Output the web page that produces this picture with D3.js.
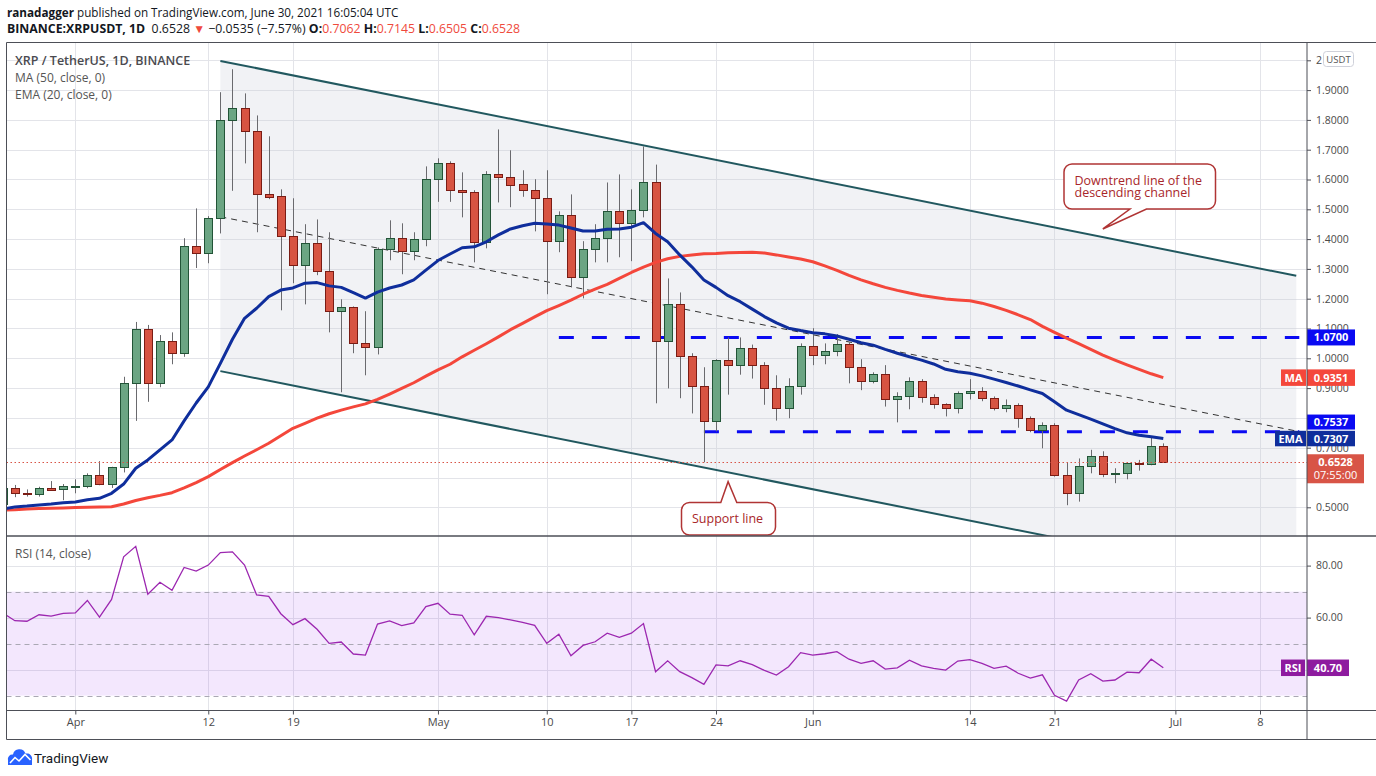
<!DOCTYPE html>
<html><head><meta charset="utf-8">
<script src="https://cdn.jsdelivr.net/npm/d3@7"></script>
<style>body{margin:0;background:#fff;overflow:hidden}svg{display:block;font-family:"Open Sans",sans-serif}</style>
</head><body><svg id="c" width="1376" height="776"></svg>
<script>
// ---------------- DATA ----------------
const firstDay = "2021-03-26", lastDay = "2021-06-30";
const opens = [0.511,0.564,0.547,0.544,0.564,0.560,
0.570,0.571,0.607,0.577,0.634,0.916,1.097,0.916,1.057,1.017,1.376,1.352,1.470,1.799,1.839,1.762,1.550,1.544,1.409,1.312,1.386,1.292,1.158,1.171,1.050,1.037,1.366,1.403,1.359,1.399,
1.601,1.654,1.564,1.557,1.389,1.617,1.607,1.584,1.564,1.537,1.393,1.480,1.272,1.366,1.403,1.493,1.453,1.497,1.591,1.057,1.181,1.007,0.906,0.789,0.993,0.976,1.034,0.976,0.899,0.832,0.906,
1.040,1.010,1.023,1.047,0.970,0.923,0.946,0.862,0.872,0.923,0.869,0.846,0.832,0.883,0.889,0.866,0.832,0.842,0.799,0.758,0.775,0.607,0.547,0.638,0.671,0.611,0.614,0.648,0.644,0.7062];
const highs = [0.575,0.575,0.560,0.569,0.588,0.578,
0.594,0.614,0.655,0.636,0.938,1.122,1.112,1.078,1.087,1.403,1.503,1.477,1.893,1.970,1.889,1.815,1.745,1.567,1.537,1.450,1.466,1.423,1.198,1.174,1.158,1.372,1.463,1.453,1.423,1.644,
1.671,1.661,1.624,1.564,1.628,1.768,1.698,1.631,1.601,1.631,1.493,1.550,1.393,1.450,1.590,1.617,1.567,1.711,1.650,1.268,1.221,1.017,0.970,0.997,1.070,1.070,1.046,0.987,0.943,0.933,1.050,
1.101,1.050,1.081,1.054,0.997,0.953,0.977,0.886,0.936,0.930,0.879,0.849,0.889,0.930,0.903,0.872,0.862,0.849,0.805,0.785,0.782,0.651,0.664,0.693,0.688,0.631,0.651,0.659,0.735,0.7145];
const lows = [0.505,0.534,0.536,0.536,0.556,0.524,
0.547,0.564,0.574,0.565,0.617,0.790,0.854,0.903,0.980,1.005,1.303,1.319,1.419,1.562,1.654,1.423,1.534,1.161,1.252,1.181,1.279,1.087,0.886,1.017,0.943,1.013,1.329,1.282,1.329,1.376,
1.525,1.525,1.473,1.322,1.369,1.523,1.507,1.542,1.426,1.215,1.356,1.238,1.201,1.322,1.322,1.339,1.326,1.473,0.849,0.899,0.866,0.815,0.651,0.755,0.878,0.945,0.932,0.844,0.791,0.799,0.878,
0.977,0.980,1.007,0.916,0.893,0.916,0.838,0.785,0.829,0.851,0.831,0.805,0.815,0.862,0.856,0.825,0.819,0.767,0.752,0.698,0.603,0.507,0.519,0.614,0.601,0.581,0.594,0.623,0.641,0.6505];
const closes = [0.564,0.547,0.544,0.564,0.559,0.570,
0.571,0.607,0.577,0.634,0.916,1.097,0.916,1.057,1.017,1.376,1.352,1.470,1.799,1.839,1.762,1.550,1.540,1.409,1.312,1.386,1.292,1.158,1.171,1.050,1.037,1.366,1.403,1.359,1.399,1.601,
1.654,1.564,1.557,1.389,1.617,1.607,1.581,1.564,1.537,1.393,1.480,1.272,1.366,1.403,1.493,1.453,1.497,1.591,1.057,1.181,1.007,0.906,0.789,0.993,0.976,1.034,0.976,0.899,0.832,0.906,1.040,
1.010,1.023,1.047,0.970,0.923,0.946,0.862,0.872,0.923,0.869,0.846,0.832,0.883,0.889,0.866,0.832,0.842,0.799,0.758,0.775,0.607,0.547,0.638,0.671,0.611,0.614,0.648,0.644,0.706,0.6528];
const ma50 = [0.491,0.492,0.494,0.496,0.497,0.498,
0.499,0.500,0.501,0.502,0.511,0.523,0.532,0.540,0.549,0.565,0.583,0.603,0.627,0.650,0.672,0.693,0.715,0.740,0.765,0.782,0.799,0.814,0.826,0.837,0.847,0.862,0.880,0.899,0.918,0.940,
0.961,0.980,1.005,1.027,1.049,1.072,1.096,1.117,1.139,1.160,1.177,1.195,1.215,1.232,1.248,1.268,1.288,1.306,1.322,1.334,1.342,1.347,1.351,1.352,1.354,1.355,1.356,1.353,1.347,1.340,1.333,
1.324,1.310,1.295,1.278,1.263,1.250,1.238,1.228,1.219,1.211,1.205,1.199,1.196,1.193,1.185,1.174,1.161,1.146,1.130,1.107,1.087,1.068,1.049,1.030,1.011,0.994,0.978,0.963,0.948,0.9351];
const ema20 = [0.494,0.501,0.504,0.508,0.511,0.515,
0.518,0.525,0.530,0.547,0.578,0.631,0.659,0.693,0.726,0.790,0.850,0.904,0.983,1.064,1.134,1.168,1.207,1.229,1.236,1.252,1.254,1.243,1.238,1.220,1.202,1.222,1.236,1.246,1.263,1.296,
1.328,1.350,1.371,1.374,1.391,1.414,1.434,1.445,1.453,1.451,1.447,1.437,1.427,1.427,1.433,1.434,1.440,1.455,1.419,1.391,1.347,1.307,1.263,1.238,1.210,1.190,1.165,1.140,1.119,1.101,1.093,
1.086,1.082,1.075,1.064,1.052,1.044,1.030,1.017,1.005,0.994,0.981,0.963,0.955,0.950,0.941,0.930,0.919,0.907,0.894,0.882,0.854,0.826,0.811,0.796,0.780,0.764,0.750,0.742,0.737,0.7307];
const rsi14 = [61.8,58.8,58.6,61.1,60.6,61.6,
61.8,66.6,60.2,67.0,83.4,87.4,69.0,73.6,70.5,79.3,77.9,80.2,85.0,85.3,80.2,68.7,68.2,61.5,57.3,59.6,55.5,50.1,50.6,46.0,45.6,57.5,58.7,56.9,58.0,64.2,
65.5,61.3,60.9,53.4,60.5,60.0,59.1,58.2,57.0,50.1,53.6,45.3,49.3,50.7,54.0,52.4,54.0,57.7,39.2,43.4,39.2,36.9,34.3,41.8,41.4,43.4,41.9,39.7,37.9,41.1,46.5,
45.6,46.1,46.9,44.0,42.4,43.4,40.2,40.7,43.6,41.4,40.5,39.8,43.3,43.8,42.4,40.5,41.3,38.6,36.7,38.0,30.1,27.9,36.0,38.4,35.6,36.0,39.0,38.8,44.0,40.7];

const priceGridTicks = [0.5,0.6,0.7,0.8,0.9,1.0,1.1,1.2,1.3,1.4,1.5,1.6,1.7,1.8,1.9,2.0];
const priceLabelTicks = [0.5,0.7,0.9,1.0,1.1,1.2,1.3,1.4,1.5,1.6,1.7,1.8,1.9,2.0];
const priceLabelText = ["0.5000","0.7000","0.9000","1.0000","1.1000","1.2000","1.3000","1.4000","1.5000","1.6000","1.7000","1.8000","1.9000","2"];
const timeTicks = ["2021-04-01","2021-04-12","2021-04-19","2021-05-01","2021-05-10","2021-05-17","2021-05-24","2021-06-01","2021-06-14","2021-06-21","2021-07-01","2021-07-08"];
const timeTickLabels = ["Apr","12","19","May","10","17","24","Jun","14","21","Jul","8"];
const rsiGridTicks = [40,60,80];
const rsiBandTicks = [30,50,70];
const rsiAxisTicks = [60,80];
const levelValues = [1.07, 0.7537];
const levelStarts = ["2021-05-11","2021-05-23"];
const levelEnd = "2021-07-11T06:00:00Z";
const channelDates = ["2021-04-13","2021-07-11"];
const channelUpper = [1.998, 1.277];
const channelLower = [0.957, 0.237];
const trendDates = ["2021-04-13","2021-07-11"];
const trendValues = [1.475, 0.756];
const lastPrice = 0.6528, lastMA = 0.9351, lastEMA = 0.7307, lastRSI = 40.70;
const calloutTop = {date:"2021-06-25", value:1.434, lines:["Downtrend line of the","descending channel"]};
const calloutBottom = {date:"2021-05-25", value:0.586, lines:["Support line"]};

// ---------------- LAYOUT ----------------
const svg = d3.select("#c");
const L = 6.5, R = 1307, T = 42.5, MB = 536, RB = 710.5, BB = 739.5;
const pd = s => new Date(s.length > 10 ? s : s + "T00:00:00Z");
const dates = d3.utcDay.range(pd(firstDay), d3.utcDay.offset(pd(lastDay), 1));
const x = d3.scaleUtc().domain([pd("2021-04-01"), pd("2021-07-08")]).range([75.3, 1260]);
const y = d3.scaleLinear().domain([0.5, 2.0]).range([507.3, 60.3]);
const yr = d3.scaleLinear().domain([30, 80]).range([695.6, 565.6]);

const GRID = "#e3e4e9", FRAME = "#4d4f57", AXT = "#4a4a4a";
const UP = "#6ba583", UPB = "#225437", DN = "#d75442", DNB = "#7a1c14", WICK = "#6a6a6e";
const MAC = "#f4473b", EMAC = "#0f2e9c", LVL = "#0a0af2", CHAN = "#21585f", RSIC = "#9c27b0", PRC = "#d85446", CALL = "#b03434";

const defs = svg.append("defs");
defs.append("clipPath").attr("id","cm").append("rect").attr("x",L).attr("y",T).attr("width",R-L).attr("height",MB-T);
defs.append("clipPath").attr("id","cr").append("rect").attr("x",L).attr("y",MB).attr("width",R-L).attr("height",RB-MB);

// ---------------- HEADER ----------------
const h1 = svg.append("text").attr("x",7).attr("y",17).attr("font-size",11.7).attr("fill","#131722");
h1.append("tspan").attr("font-weight",700).text("ranadagger");
h1.append("tspan").text(" published on TradingView.com, June 30, 2021 16:05:04 UTC");
const h2 = svg.append("text").attr("x",7).attr("y",33).attr("font-size",12.3).attr("fill","#131722");
h2.append("tspan").attr("font-weight",700).text("BINANCE:XRPUSDT, 1D");
h2.append("tspan").text("\u00a0 0.6528 ");
h2.append("tspan").attr("fill","#ef4a3c").attr("font-size",12).text("\u25BC");
h2.append("tspan").text(" \u22120.0535 (\u22127.57%) ");
[["O:","0.7062"],["H:","0.7145"],["L:","0.6505"],["C:","0.6528"]].forEach((p,i)=>{
  h2.append("tspan").attr("font-weight",700).text((i? " ":"") + p[0]);
  h2.append("tspan").attr("fill","#ef4a3c").text(p[1]);
});

// ---------------- GRID ----------------
const gMain = svg.append("g").attr("clip-path","url(#cm)");
const gR = svg.append("g").attr("clip-path","url(#cr)");
gMain.selectAll(".hg").data(priceGridTicks).join("line")
  .attr("x1",L).attr("x2",R).attr("y1",d=>Math.round(y(d))+0.5).attr("y2",d=>Math.round(y(d))+0.5)
  .attr("stroke",GRID);
gMain.selectAll(".vg").data(timeTicks).join("line")
  .attr("x1",d=>Math.round(x(pd(d)))+0.5).attr("x2",d=>Math.round(x(pd(d)))+0.5).attr("y1",T).attr("y2",MB)
  .attr("stroke",GRID);

gR.selectAll(".vg").data(timeTicks).join("line")
  .attr("x1",d=>Math.round(x(pd(d)))+0.5).attr("x2",d=>Math.round(x(pd(d)))+0.5).attr("y1",MB).attr("y2",RB)
  .attr("stroke",GRID);
gR.selectAll(".hg").data(rsiGridTicks).join("line")
  .attr("x1",L).attr("x2",R).attr("y1",d=>Math.round(yr(d))+0.5).attr("y2",d=>Math.round(yr(d))+0.5)
  .attr("stroke",GRID);
gR.append("rect").attr("x",L).attr("width",R-L).attr("y",yr(70)).attr("height",yr(30)-yr(70))
  .attr("fill","rgba(150,40,240,0.115)");
gR.selectAll(".bd").data(rsiBandTicks).join("line")
  .attr("x1",L).attr("x2",R).attr("y1",d=>Math.round(yr(d))+0.5).attr("y2",d=>Math.round(yr(d))+0.5)
  .attr("stroke","#aaa8b4").attr("stroke-dasharray","5,4");

// ---------------- DRAWINGS (behind candles) ----------------
const cx0 = x(pd(channelDates[0])), cx1 = x(pd(channelDates[1]));
gMain.append("path")
  .attr("d", `M${cx0},${y(channelUpper[0])}L${cx1},${y(channelUpper[1])}L${cx1},${y(channelLower[1])}L${cx0},${y(channelLower[0])}Z`)
  .attr("fill","rgba(200,205,215,0.25)");
gMain.append("line").attr("x1",cx0).attr("y1",y(channelUpper[0])).attr("x2",cx1).attr("y2",y(channelUpper[1]))
  .attr("stroke",CHAN).attr("stroke-width",2);
gMain.append("line").attr("x1",cx0).attr("y1",y(channelLower[0])).attr("x2",cx1).attr("y2",y(channelLower[1]))
  .attr("stroke",CHAN).attr("stroke-width",2);
gMain.append("line").attr("x1",x(pd(trendDates[0]))).attr("y1",y(trendValues[0]))
  .attr("x2",x(pd(trendDates[1]))).attr("y2",y(trendValues[1]))
  .attr("stroke","#333").attr("stroke-width",1).attr("stroke-dasharray","6,5");
levelValues.forEach((v,i)=>{
  gMain.append("line").attr("x1",x(pd(levelStarts[i]))).attr("x2",x(pd(levelEnd)))
    .attr("y1",y(v)).attr("y2",y(v)).attr("stroke",LVL).attr("stroke-width",3).attr("stroke-dasharray","15,18");
});

// ---------------- CANDLES ----------------
const candles = dates.map((d,i)=>({d, o:opens[i], h:highs[i], l:lows[i], c:closes[i]}));
const gc = gMain.append("g");
candles.forEach(k=>{
  const cx = Math.round(x(k.d));
  const up = k.c >= k.o;
  gc.append("line").attr("x1",cx+0.5).attr("x2",cx+0.5).attr("y1",y(k.h)).attr("y2",y(k.l))
    .attr("stroke",WICK).attr("stroke-width",1);
  const yt = Math.round(y(Math.max(k.o,k.c))), yb = Math.round(y(Math.min(k.o,k.c)));
  gc.append("rect").attr("x",cx-3.5).attr("width",8).attr("y",yt+0.5).attr("height",Math.max(1,yb-yt))
    .attr("fill",up?UP:DN).attr("stroke",up?UPB:DNB).attr("stroke-width",1);
});

gMain.append("line").attr("x1",L).attr("x2",R).attr("y1",Math.round(y(lastPrice))+0.5).attr("y2",Math.round(y(lastPrice))+0.5)
  .attr("stroke",PRC).attr("stroke-width",1).attr("stroke-dasharray","1.5,2.5");

// ---------------- INDICATORS ----------------
const line = d3.line().x((d,i)=>x(dates[i])).y(d=>y(d));
gMain.append("path").attr("d",line(ma50)).attr("fill","none").attr("stroke",MAC).attr("stroke-width",3).attr("stroke-linejoin","round");
gMain.append("path").attr("d",line(ema20)).attr("fill","none").attr("stroke",EMAC).attr("stroke-width",3).attr("stroke-linejoin","round");

const rline = d3.line().x((d,i)=>x(dates[i])).y(d=>yr(d));
gR.append("path").attr("d",rline(rsi14)).attr("fill","none").attr("stroke",RSIC).attr("stroke-width",1.3);

// ---------------- CALLOUTS ----------------
function callout(c, box, base, pointerSide){
  const tx = x(pd(c.date)), ty = y(c.value);
  const [x0,y0,x1,y1] = box, r = 8;
  let d;
  if (pointerSide === "bottom") {
    d = `M${x0+r},${y0}H${x1-r}A${r},${r} 0 0 1 ${x1},${y0+r}V${y1-r}A${r},${r} 0 0 1 ${x1-r},${y1}`+
        `H${base[1]}L${tx},${ty}L${base[0]},${y1}H${x0+r}A${r},${r} 0 0 1 ${x0},${y1-r}V${y0+r}A${r},${r} 0 0 1 ${x0+r},${y0}Z`;
  } else {
    d = `M${x0+r},${y0}H${base[0]}L${tx},${ty}L${base[1]},${y0}H${x1-r}A${r},${r} 0 0 1 ${x1},${y0+r}V${y1-r}`+
        `A${r},${r} 0 0 1 ${x1-r},${y1}H${x0+r}A${r},${r} 0 0 1 ${x0},${y1-r}V${y0+r}A${r},${r} 0 0 1 ${x0+r},${y0}Z`;
  }
  svg.append("path").attr("d",d).attr("fill","#fff").attr("stroke",CALL).attr("stroke-width",1.5);
  const t = svg.append("text").attr("font-size",12.5).attr("fill","#a8262a");
  const n = c.lines.length;
  c.lines.forEach((s,i)=>{
    t.append("tspan").attr("x",x0+10.5)
      .attr("y",(y0+y1)/2 + 4.5 + (i-(n-1)/2)*12.5).text(s);
  });
}
callout(calloutTop, [1064,164,1215.5,209], [1130,1146.5], "bottom");
callout(calloutBottom, [681.5,502.5,775.5,535], [720.8,736.8], "top");

// ---------------- LEGENDS ----------------
svg.append("text").attr("x",15).attr("y",64.5).attr("font-size",12.5).attr("font-weight",600).attr("fill","#4a4a4f").text("XRP / TetherUS, 1D, BINANCE");
svg.append("text").attr("x",15).attr("y",81.5).attr("font-size",12).attr("fill","#555").text("MA (50, close, 0)");
svg.append("text").attr("x",15).attr("y",98.5).attr("font-size",12).attr("fill","#555").text("EMA (20, close, 0)");
svg.append("text").attr("x",15).attr("y",557.5).attr("font-size",12).attr("fill","#555").text("RSI (14, close)");

// ---------------- AXES ----------------
svg.append("rect").attr("x",R).attr("y",T).attr("width",1376-R).attr("height",BB-T).attr("fill","#fff");
const ya = svg.append("g").attr("transform",`translate(${R},0)`)
  .call(d3.axisRight(y).tickValues(priceLabelTicks).tickFormat((d,i)=>priceLabelText[i]).tickSize(4).tickPadding(5));
const yra = svg.append("g").attr("transform",`translate(${R},0)`)
  .call(d3.axisRight(yr).tickValues(rsiAxisTicks).tickFormat(d3.format(".2f")).tickSize(4).tickPadding(5));
const xa = svg.append("g").attr("transform",`translate(0,${RB})`)
  .call(d3.axisBottom(x).tickValues(timeTicks.map(pd)).tickFormat((d,i)=>timeTickLabels[i]).tickSize(4).tickPadding(4));
[ya,yra,xa].forEach(g=>{
  g.select(".domain").remove();
  g.selectAll(".tick line").attr("stroke",FRAME);
  g.selectAll(".tick text").attr("fill",AXT).attr("font-family","'Open Sans',sans-serif");
});
ya.selectAll(".tick text").attr("font-size",10.5);
yra.selectAll(".tick text").attr("font-size",10.5);
xa.selectAll(".tick text").attr("font-size",11);

svg.append("rect").attr("x",1323.5).attr("y",51.5).attr("width",30).attr("height",15).attr("rx",3)
  .attr("fill","#fff").attr("stroke","#cfd1da");
svg.append("text").attr("x",1338.5).attr("y",62.5).attr("text-anchor","middle").attr("font-size",9.5).attr("fill","#555").text("USDT");

function tag(x0, w, cy, h, fill, label){
  svg.append("rect").attr("x",x0).attr("y",cy-h/2).attr("width",w).attr("height",h).attr("fill",fill);
  svg.append("text").attr("x",x0+w/2).attr("y",cy+4).attr("text-anchor","middle").attr("font-size",11)
    .attr("font-weight",700).attr("fill","#fff").text(label);
}
const emaCy = y(lastEMA);
tag(R, 48, y(levelValues[0]), 16, LVL, d3.format(".4f")(levelValues[0]));
tag(R, 48, y(lastMA), 16.5, MAC, d3.format(".4f")(lastMA));
tag(1281, 25, y(lastMA), 16.5, MAC, "MA");
tag(R, 48, Math.min(y(levelValues[1]), emaCy-16.5), 15, LVL, d3.format(".4f")(levelValues[1]));
tag(R, 48, emaCy, 15.5, EMAC, d3.format(".4f")(lastEMA));
tag(1275, 31, emaCy, 15.5, EMAC, "EMA");
const lpY = y(lastPrice);
svg.append("rect").attr("x",R).attr("y",lpY-7.5).attr("width",57).attr("height",29).attr("fill",PRC);
svg.append("text").attr("x",R+28.5).attr("y",lpY+4).attr("text-anchor","middle").attr("font-size",11).attr("font-weight",700).attr("fill","#fff").text(d3.format(".4f")(lastPrice));
svg.append("text").attr("x",R+28.5).attr("y",lpY+17).attr("text-anchor","middle").attr("font-size",11).attr("fill","#fff").text("07:55:00");
tag(R, 42, yr(lastRSI), 16.5, "#8e1b9f", d3.format(".2f")(lastRSI));
tag(1281, 24, yr(lastRSI), 16.5, "#8e1b9f", "RSI");

// ---------------- FRAME ----------------
const fr = svg.append("g").attr("stroke",FRAME).attr("stroke-width",1);
fr.append("line").attr("x1",L).attr("x2",1376).attr("y1",T).attr("y2",T);
fr.append("line").attr("x1",L).attr("x2",1376).attr("y1",MB).attr("y2",MB).attr("stroke-width",1.5);
fr.append("line").attr("x1",L).attr("x2",1376).attr("y1",RB).attr("y2",RB);
fr.append("line").attr("x1",L).attr("x2",1376).attr("y1",BB).attr("y2",BB);
fr.append("line").attr("x1",L).attr("x2",L).attr("y1",T).attr("y2",BB);
fr.append("line").attr("x1",R).attr("x2",R).attr("y1",T).attr("y2",BB);

// ---------------- FOOTER LOGO ----------------
const lg = svg.append("g");
lg.append("path").attr("d","M8,765 V760 A4.5,4.5 0 0 1 13,754.5 A6.5,6.5 0 0 1 25.5,753.5 A5.5,5.5 0 0 1 32,760 V765 Z").attr("fill","#2962ff");
lg.append("path").attr("d","M10,763 L15,757.5 L19,761 L25,754.5 L30.5,760").attr("fill","none").attr("stroke","#fff").attr("stroke-width",1.6);
svg.append("text").attr("x",34).attr("y",763).attr("font-family","Roboto,sans-serif").attr("font-size",13.5).attr("fill","#131722").text("TradingView");
</script></body></html>
